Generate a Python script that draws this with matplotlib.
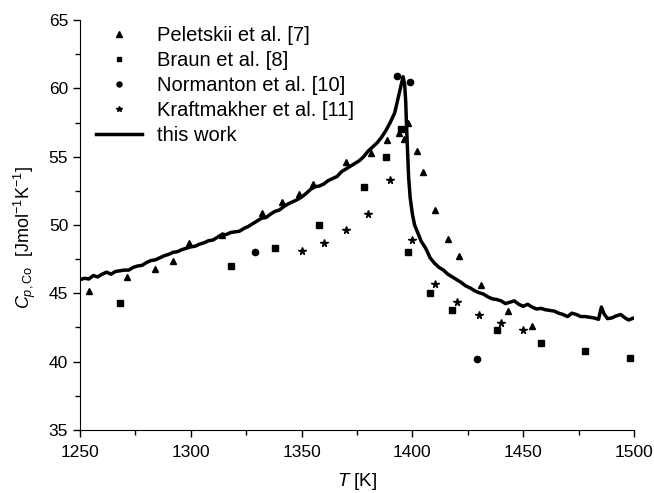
import matplotlib
matplotlib.use("Agg")
import matplotlib.pyplot as plt
from matplotlib.ticker import MultipleLocator

plt.rcParams['font.family'] = ['Liberation Sans', 'DejaVu Sans']
plt.rcParams['mathtext.fontset'] = 'custom'
plt.rcParams['mathtext.rm'] = 'Liberation Sans'
plt.rcParams['mathtext.it'] = 'Liberation Sans:italic'

# Peletskii et al. [7]
pel_T = [1254, 1271, 1284, 1292, 1299, 1314, 1332, 1341, 1349, 1355, 1370, 1381.5,
         1388.5, 1394, 1396, 1398, 1402, 1405, 1410, 1416, 1421, 1431, 1443, 1454]
pel_C = [45.2, 46.2, 46.8, 47.4, 48.7, 49.3, 50.9, 51.7, 52.3, 53.0, 54.6, 55.3,
         56.2, 56.7, 56.3, 57.5, 55.4, 53.9, 51.1, 49.0, 47.7, 45.6, 43.7, 42.6]

# Braun et al. [8]
bra_T = [1268, 1318, 1338, 1358, 1378, 1388, 1395, 1398, 1408, 1418, 1438, 1458, 1478, 1498]
bra_C = [44.3, 47.0, 48.3, 50.0, 52.8, 55.0, 57.0, 48.0, 45.0, 43.8, 42.3, 41.4, 40.8, 40.3]

# Normanton et al. [10]
nor_T = [1329, 1393, 1399, 1429]
nor_C = [48.0, 60.9, 60.5, 40.2]

# Kraftmakher et al. [11]
kra_T = [1350, 1360, 1370, 1380, 1390, 1400, 1410, 1420, 1430, 1440, 1450]
kra_C = [48.1, 48.7, 49.6, 50.8, 53.3, 48.9, 45.7, 44.4, 43.45, 42.8, 42.3]

# this work
work_T = [1250, 1252, 1254, 1256, 1258, 1260, 1262, 1264, 1266, 1268, 1270, 1272, 1274,
          1276, 1278, 1280, 1282, 1284, 1286, 1288, 1290, 1292, 1294, 1296, 1298, 1300,
          1302, 1304, 1306, 1308, 1310, 1312, 1314, 1316, 1318, 1320, 1322, 1324, 1326,
          1328, 1330, 1332, 1334, 1336, 1338, 1340, 1342, 1344, 1346, 1348, 1350, 1352,
          1354, 1356, 1358, 1360, 1362, 1364, 1366, 1368, 1370, 1372, 1374, 1376, 1378,
          1380, 1382, 1384, 1386, 1388, 1390, 1392, 1393, 1394, 1395, 1395.8, 1396.5,
          1397, 1397.3, 1397.8, 1398.3, 1399, 1400, 1401, 1402.5, 1404, 1406, 1408, 1410,
          1412, 1414, 1416, 1418, 1420, 1422, 1424, 1426, 1428, 1430, 1432, 1434, 1436,
          1438, 1440, 1442, 1444, 1446, 1448, 1450, 1452, 1454, 1456, 1458, 1460, 1462,
          1464, 1466, 1468, 1470, 1472, 1474, 1476, 1478, 1480, 1482, 1484, 1485.3,
          1486.5, 1488, 1490, 1492, 1494, 1496, 1497.5, 1500]
work_C = [46.0, 46.1, 46.05, 46.3, 46.2, 46.4, 46.55, 46.4, 46.6, 46.65, 46.7, 46.7, 46.9,
          47.0, 47.05, 47.25, 47.4, 47.45, 47.6, 47.75, 47.85, 48.0, 48.05, 48.2, 48.3, 48.4,
          48.45, 48.6, 48.7, 48.85, 48.9, 49.1, 49.3, 49.3, 49.45, 49.5, 49.55, 49.75, 49.9,
          50.1, 50.3, 50.5, 50.55, 50.8, 51.0, 51.1, 51.35, 51.55, 51.7, 51.85, 52.05, 52.3,
          52.6, 52.8, 52.85, 53.0, 53.25, 53.4, 53.55, 53.9, 54.1, 54.3, 54.5, 54.7, 55.0,
          55.4, 55.7, 56.0, 56.4, 56.9, 57.5, 58.2, 58.9, 59.6, 60.3, 60.85, 60.3,
          59.0, 57.5, 55.5, 53.5, 52.0, 50.8, 50.0, 49.4, 48.8, 48.3, 47.6, 47.2,
          46.9, 46.7, 46.4, 46.2, 46.0, 45.8, 45.55, 45.4, 45.2, 45.05, 44.95, 44.75, 44.6,
          44.55, 44.45, 44.25, 44.35, 44.45, 44.2, 44.05, 44.2, 44.0, 43.85, 43.9, 43.8, 43.75,
          43.7, 43.55, 43.45, 43.3, 43.55, 43.45, 43.3, 43.3, 43.25, 43.2, 43.1, 44.0,
          43.5, 43.15, 43.2, 43.35, 43.45, 43.2, 43.05, 43.2]

fig = plt.figure(figsize=(6.54, 4.93), dpi=100)
ax = fig.add_axes([0.1223, 0.1278, 0.8471, 0.8316])

ax.plot(pel_T, pel_C, '^', color='black', ms=5, ls='none', label='Peletskii et al. [7]')
ax.plot(bra_T, bra_C, 's', color='black', ms=4, ls='none', label='Braun et al. [8]')
ax.plot(nor_T, nor_C, 'o', color='black', ms=4.5, ls='none', label='Normanton et al. [10]')
ax.plot(kra_T, kra_C, '*', color='black', ms=5.5, ls='none', label='Kraftmakher et al. [11]')
ax.plot(work_T, work_C, '-', color='black', lw=2.5, label='this work')

ax.set_xlim(1250, 1500)
ax.set_ylim(35, 65)
ax.xaxis.set_major_locator(MultipleLocator(50))
ax.xaxis.set_minor_locator(MultipleLocator(25))
ax.yaxis.set_major_locator(MultipleLocator(5))
ax.yaxis.set_minor_locator(MultipleLocator(2.5))
ax.tick_params(which='major', direction='out', length=5, width=1, labelsize=12.5)
ax.tick_params(axis='x', which='major', pad=6)
ax.tick_params(which='minor', direction='out', length=3.5, width=1)
ax.spines['top'].set_visible(False)
ax.spines['right'].set_visible(False)

ax.set_xlabel('$T$ [K]', fontsize=13.5, labelpad=8)
ax.set_ylabel(r'$C_{p,\mathrm{Co}}$  [Jmol$^{-1}$K$^{-1}$]', fontsize=13)
ax.yaxis.set_label_coords(-0.075, 0.47)

ax.legend(loc='upper left', bbox_to_anchor=(0.029, 0.985), frameon=False, fontsize=14.5,
          handlelength=2.3, handletextpad=0.75, labelspacing=0.3, markerscale=0.8,
          borderaxespad=0, borderpad=0)

fig.savefig('out.png', dpi=100)
